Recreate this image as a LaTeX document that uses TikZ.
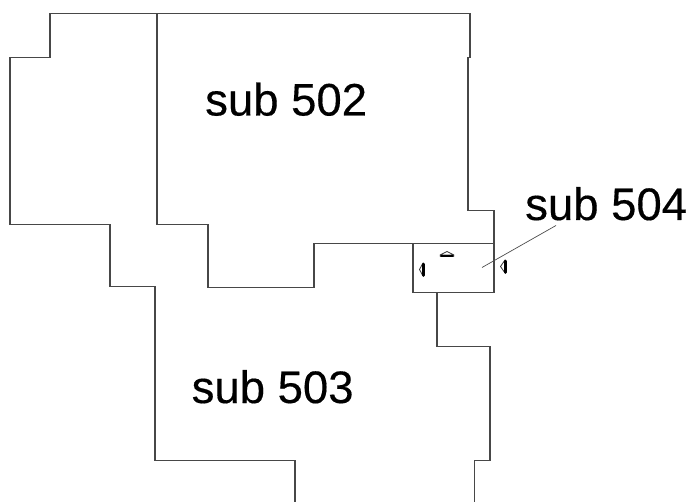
\documentclass[tikz,border=0pt]{standalone}
\usepackage{fontspec}
\setmainfont{Liberation Sans}
\newfontfamily\lblfont{Liberation Sans}[FakeBold=0.35]
\begin{document}
\begin{tikzpicture}[x=1pt,y=-1pt,
  wall/.style={draw=black!72,line width=1.15pt,line join=miter},
  lbl/.style={font=\lblfont\fontsize{45.5}{46}\selectfont,text=black,inner sep=0pt,anchor=base west},
  markthin/.style={draw=black!80,line width=0.8pt,fill=white,line join=round},
  markthick/.style={draw=black,line width=2.8pt,line cap=round}]
\useasboundingbox (0,0) rectangle (688,502);
\path[wall] (295,502) -- (295,460.5) -- (155,460.5) -- (155,286.5) -- (110,286.5) -- (110,224.5) -- (10,224.5) -- (10,57.5) -- (50,57.5) -- (50,13.5) -- (470,13.5) -- (470,57.5) -- (468,57.5) -- (468,210.5) -- (494,210.5) -- (494,292.5) -- (413,292.5) -- (413,243.5);
\path[wall] (157,13.5) -- (157,224.5) -- (208,224.5) -- (208,287.5) -- (314,287.5) -- (314,243.5) -- (494,243.5);
\path[wall] (437,292.5) -- (437,346.5) -- (490,346.5) -- (490,460.5) -- (474.5,460.5) -- (474.5,502);
\coordinate (la) at (556,225.5);
\coordinate (lb) at (482,267.5);
\draw[black!70,line width=0.7pt] (la) -- (lb);
\path[markthin] (440,255) -- (447,251.5) -- (454,255) -- cycle;
\draw[markthick] (441,256) -- (453,256);
\path[markthin] (423,263) -- (419.5,269.5) -- (423,276) -- cycle;
\draw[markthick] (423.5,264) -- (423.5,275.5);
\path[markthin] (505,260) -- (500.5,266.5) -- (505,273) -- cycle;
\draw[markthick] (505.3,261) -- (505.3,272.5);
\node[lbl] (s502) at (205,115.5) {sub 502};
\node[lbl] (s503) at (191.5,403) {sub 503};
\node[lbl] (s504) at (525,220) {sub 504};
\end{tikzpicture}
\end{document}
